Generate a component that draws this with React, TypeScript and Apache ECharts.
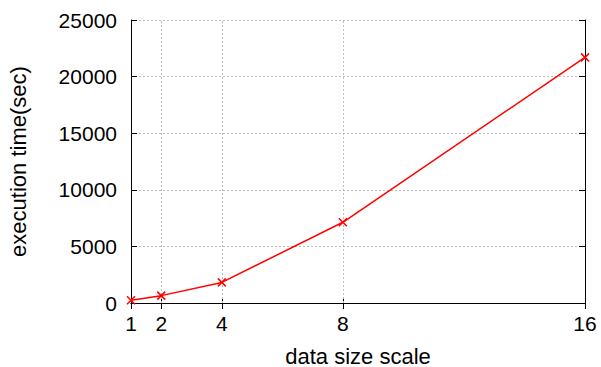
import React, { useEffect, useRef } from "react";
import * as echarts from "echarts";

const scales = [1, 2, 4, 8, 16];
const times = [240, 650, 1820, 7130, 21700];
const xTicks = [1, 2, 4, 8, 16];
const xGrid = [2, 4, 8];

const FONT = "Liberation Sans";

export default function App() {
  const ref = useRef<HTMLDivElement>(null);
  useEffect(() => {
    if (!ref.current) return;
    const chart = echarts.init(ref.current, undefined, { renderer: "svg" });
    const tickStyle = { show: true, inside: true, length: 6, lineStyle: { color: "#000", width: 1 } };
    chart.setOption({
      animation: false,
      backgroundColor: "#fff",
      grid: { left: 131, right: 16, top: 20, bottom: 64, containLabel: false, outerBoundsMode: "none" },
      xAxis: [
        {
          type: "value",
          min: 1,
          max: 16,
          position: "bottom",
          name: "data size scale",
          nameLocation: "middle",
          nameGap: 42,
          nameTextStyle: { fontFamily: FONT, fontSize: 22, color: "#000" },
          axisLine: { show: true, onZero: false, lineStyle: { color: "#000", width: 1 } },
          axisTick: { ...tickStyle, customValues: xTicks },
          axisLabel: { customValues: xTicks, fontFamily: FONT, fontSize: 21, color: "#000", margin: 10 },
          splitLine: { show: false },
        },
        {
          type: "value",
          min: 1,
          max: 16,
          position: "top",
          axisLine: { show: true, lineStyle: { color: "#000", width: 1 } },
          axisTick: { ...tickStyle, customValues: xTicks },
          axisLabel: { show: false },
          splitLine: { show: false },
        },
      ],
      yAxis: [
        {
          type: "value",
          min: 0,
          max: 25000,
          interval: 5000,
          name: "execution time(sec)",
          nameLocation: "middle",
          nameGap: 102,
          nameTextStyle: { fontFamily: FONT, fontSize: 22, color: "#000" },
          axisLine: { show: true, lineStyle: { color: "#000", width: 1 } },
          axisTick: tickStyle,
          axisLabel: {
            fontFamily: FONT,
            fontSize: 21,
            color: "#000",
            margin: 14,
            formatter: (v: number) => String(v),
          },
          splitLine: { show: true, lineStyle: { color: "#bbb", type: [2, 2], width: 1 } },
        },
        {
          type: "value",
          min: 0,
          max: 25000,
          interval: 5000,
          position: "right",
          axisLine: { show: true, lineStyle: { color: "#000", width: 1 } },
          axisTick: tickStyle,
          axisLabel: { show: false },
          splitLine: { show: false },
        },
      ],
      series: [
        {
          type: "line",
          data: scales.map((s, i) => [s, times[i]]),
          symbol: "path://M0,0L10,10M10,0L0,10",
          symbolSize: 8,
          showSymbol: true,
          lineStyle: { color: "#ff0000", width: 1.5 },
          itemStyle: { color: "none", borderColor: "#ff0000", borderWidth: 1.5 },
          z: 5,
          markLine: {
            silent: true,
            symbol: "none",
            label: { show: false },
            lineStyle: { color: "#bbb", type: [2, 2], width: 1 },
            data: xGrid.map((v) => ({ xAxis: v })),
            z: 1,
          },
        },
      ],
    });
    return () => chart.dispose();
  }, []);
  return <div ref={ref} style={{ width: 601, height: 367, position: "absolute", left: 0, top: 0 }} />;
}
